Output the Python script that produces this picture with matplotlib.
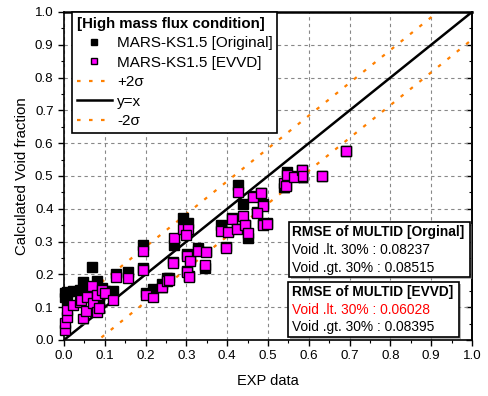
import matplotlib
matplotlib.use("Agg")
import matplotlib.pyplot as plt
import matplotlib.patheffects as pe
from matplotlib.patches import Rectangle
from matplotlib.lines import Line2D
from matplotlib.ticker import MultipleLocator, FormatStrFormatter
import numpy as np

plt.rcParams['font.family'] = ['Liberation Sans', 'DejaVu Sans']

# EXP data (x), MARS-KS1.5 Original (y), MARS-KS1.5 EVVD (y)
exp_data = [0.002, 0.002, 0.007, 0.007, 0.022, 0.039, 0.042, 0.047, 0.054, 0.056,
            0.069, 0.071, 0.081, 0.081, 0.086, 0.093, 0.100, 0.120, 0.127, 0.157,
            0.194, 0.194, 0.201, 0.218, 0.240, 0.252, 0.257, 0.267, 0.270, 0.292,
            0.304, 0.299, 0.301, 0.309, 0.301, 0.306, 0.328, 0.348, 0.346, 0.397,
            0.385, 0.402, 0.412, 0.424, 0.439, 0.426, 0.444, 0.451, 0.463, 0.483,
            0.488, 0.473, 0.488, 0.498, 0.539, 0.544, 0.547, 0.564, 0.583, 0.585,
            0.632, 0.691]
calc_original = [0.145, 0.130, 0.122, 0.146, 0.149, 0.152, 0.150, 0.177, 0.140, 0.150,
                 0.223, 0.130, 0.180, 0.120, 0.125, 0.160, 0.150, 0.149, 0.203, 0.207,
                 0.220, 0.290, 0.145, 0.157, 0.171, 0.190, 0.190, 0.240, 0.290, 0.372,
                 0.357, 0.325, 0.262, 0.245, 0.210, 0.195, 0.280, 0.270, 0.220, 0.285,
                 0.350, 0.330, 0.372, 0.340, 0.415, 0.473, 0.352, 0.311, 0.440, 0.450,
                 0.415, 0.390, 0.355, 0.357, 0.465, 0.472, 0.512, 0.500, 0.520, 0.495,
                 0.500, 0.576]
calc_evvd = [0.030, 0.052, 0.070, 0.091, 0.107, 0.116, 0.122, 0.065, 0.088, 0.131,
             0.165, 0.113, 0.137, 0.086, 0.098, 0.152, 0.143, 0.122, 0.192, 0.189,
             0.214, 0.271, 0.137, 0.130, 0.160, 0.180, 0.183, 0.235, 0.311, 0.338,
             0.338, 0.320, 0.256, 0.241, 0.207, 0.192, 0.271, 0.268, 0.229, 0.280,
             0.332, 0.329, 0.369, 0.338, 0.378, 0.451, 0.350, 0.326, 0.436, 0.448,
             0.409, 0.387, 0.351, 0.354, 0.479, 0.470, 0.503, 0.497, 0.518, 0.500,
             0.500, 0.576]

two_sigma = 0.084
ref_line = [0.0, 1.0]

legend_title = "[High mass flux condition]"
label_original = "MARS-KS1.5 [Original]"
label_evvd = "MARS-KS1.5 [EVVD]"

box1_lines = ["RMSE of MULTID [Orginal]", "Void .lt. 30% : 0.08237", "Void .gt. 30% : 0.08515"]
box2_lines = ["RMSE of MULTID [EVVD]", "Void .lt. 30% : 0.06028", "Void .gt. 30% : 0.08395"]

orange = '#FF8000'
dots = (0, (1.6, 3.8))

fig = plt.figure(figsize=(4.89, 3.96), dpi=100)
ax = fig.add_axes([64/489, 56/396, 408/489, 328/396])

ax.set_xlim(0, 1)
ax.set_ylim(0, 1)
ax.xaxis.set_major_locator(MultipleLocator(0.1))
ax.yaxis.set_major_locator(MultipleLocator(0.1))
ax.xaxis.set_minor_locator(MultipleLocator(0.05))
ax.yaxis.set_minor_locator(MultipleLocator(0.05))
ax.grid(True, which='major', color='#888888', linestyle=(0, (3, 3)), linewidth=0.8)
ax.set_axisbelow(True)

ax.tick_params(which='both', direction='out', top=False, right=False, labelsize=9.6)
ax.tick_params(which='major', length=4, width=1)
ax.tick_params(which='minor', length=2.5, width=0.8)
ax2 = ax.secondary_yaxis('right')
ax2.yaxis.set_major_locator(MultipleLocator(0.1))
ax2.yaxis.set_minor_locator(MultipleLocator(0.05))
ax2.tick_params(which='both', direction='in', labelright=False)
ax2.tick_params(which='major', length=4, width=1)
ax2.tick_params(which='minor', length=2.5, width=0.8)
ax2.spines['right'].set_linewidth(1.2)

for s in ax.spines.values():
    s.set_linewidth(1.2)
ax.spines['top'].set_linewidth(1.8)

ax.xaxis.set_major_formatter(FormatStrFormatter('%.1f'))
ax.yaxis.set_major_formatter(FormatStrFormatter('%.1f'))

x = np.array(ref_line)
ax.plot(x, x + two_sigma, color=orange, lw=1.6, linestyle=dots, zorder=2)
ax.plot(x, x, color='black', lw=1.8, zorder=2)
ax.plot(x, x - two_sigma, color=orange, lw=1.6, linestyle=dots, zorder=2)

shadow = [pe.SimplePatchShadow(offset=(1, -1), shadow_rgbFace='#888888', alpha=0.6), pe.Normal()]
ax.plot(exp_data, calc_original, linestyle='none', marker='s', markersize=6.8,
        markerfacecolor='black', markeredgecolor='black', markeredgewidth=1.0,
        path_effects=shadow, zorder=3, clip_on=False)
ax.plot(exp_data, calc_evvd, linestyle='none', marker='s', markersize=6.8,
        markerfacecolor='#FF00FF', markeredgecolor='black', markeredgewidth=1.0,
        path_effects=shadow, zorder=4, clip_on=False)

handles = [
    Line2D([], [], linestyle='none', marker='s', markersize=5, markerfacecolor='black', markeredgecolor='black'),
    Line2D([], [], linestyle='none', marker='s', markersize=5, markerfacecolor='#FF00FF', markeredgecolor='black'),
    Line2D([], [], color=orange, lw=1.6, linestyle=dots),
    Line2D([], [], color='black', lw=1.8),
    Line2D([], [], color=orange, lw=1.6, linestyle=dots),
]
labels = [label_original, label_evvd, '+2σ', 'y=x', '-2σ']
leg = ax.legend(handles, labels, title=legend_title, loc='upper left',
                bbox_to_anchor=(0.02, 1.0), borderaxespad=0, fancybox=False,
                edgecolor='black', framealpha=1, fontsize=11, handlelength=2.3,
                handletextpad=0.33, labelspacing=0.36, borderpad=0.3,
                title_fontproperties={'weight': 'bold', 'size': 10.8})
leg._legend_box.align = 'left'
leg.get_frame().set_linewidth(1.2)
leg.set_zorder(10)

def rmse_box(x0, y0, w, h, lines, colors, ys):
    r = Rectangle((x0, y0), w, h, transform=ax.transAxes, facecolor='white',
                  edgecolor='black', linewidth=1.2, zorder=11,
                  path_effects=[pe.SimplePatchShadow(offset=(1.5, -1.5), shadow_rgbFace='#888888', alpha=0.6), pe.Normal()])
    ax.add_patch(r)
    for i, (t, c, yy) in enumerate(zip(lines, colors, ys)):
        ax.text(x0 + 0.009, yy, t, transform=ax.transAxes, color=c, fontsize=9.9,
                fontweight='bold' if i == 0 else 'normal', va='center', ha='left', zorder=12)

rmse_box(0.551, 0.192, 0.444, 0.168, box1_lines, ['black', 'black', 'black'], [0.330, 0.274, 0.220])
rmse_box(0.549, 0.009, 0.419, 0.168, box2_lines, ['black', 'red', 'black'], [0.146, 0.092, 0.040])

ax.set_xlabel('EXP data', fontsize=10.5, labelpad=8)
ax.set_ylabel('Calculated Void fraction', fontsize=10.8, labelpad=4)

fig.savefig('out.png', dpi=100)
